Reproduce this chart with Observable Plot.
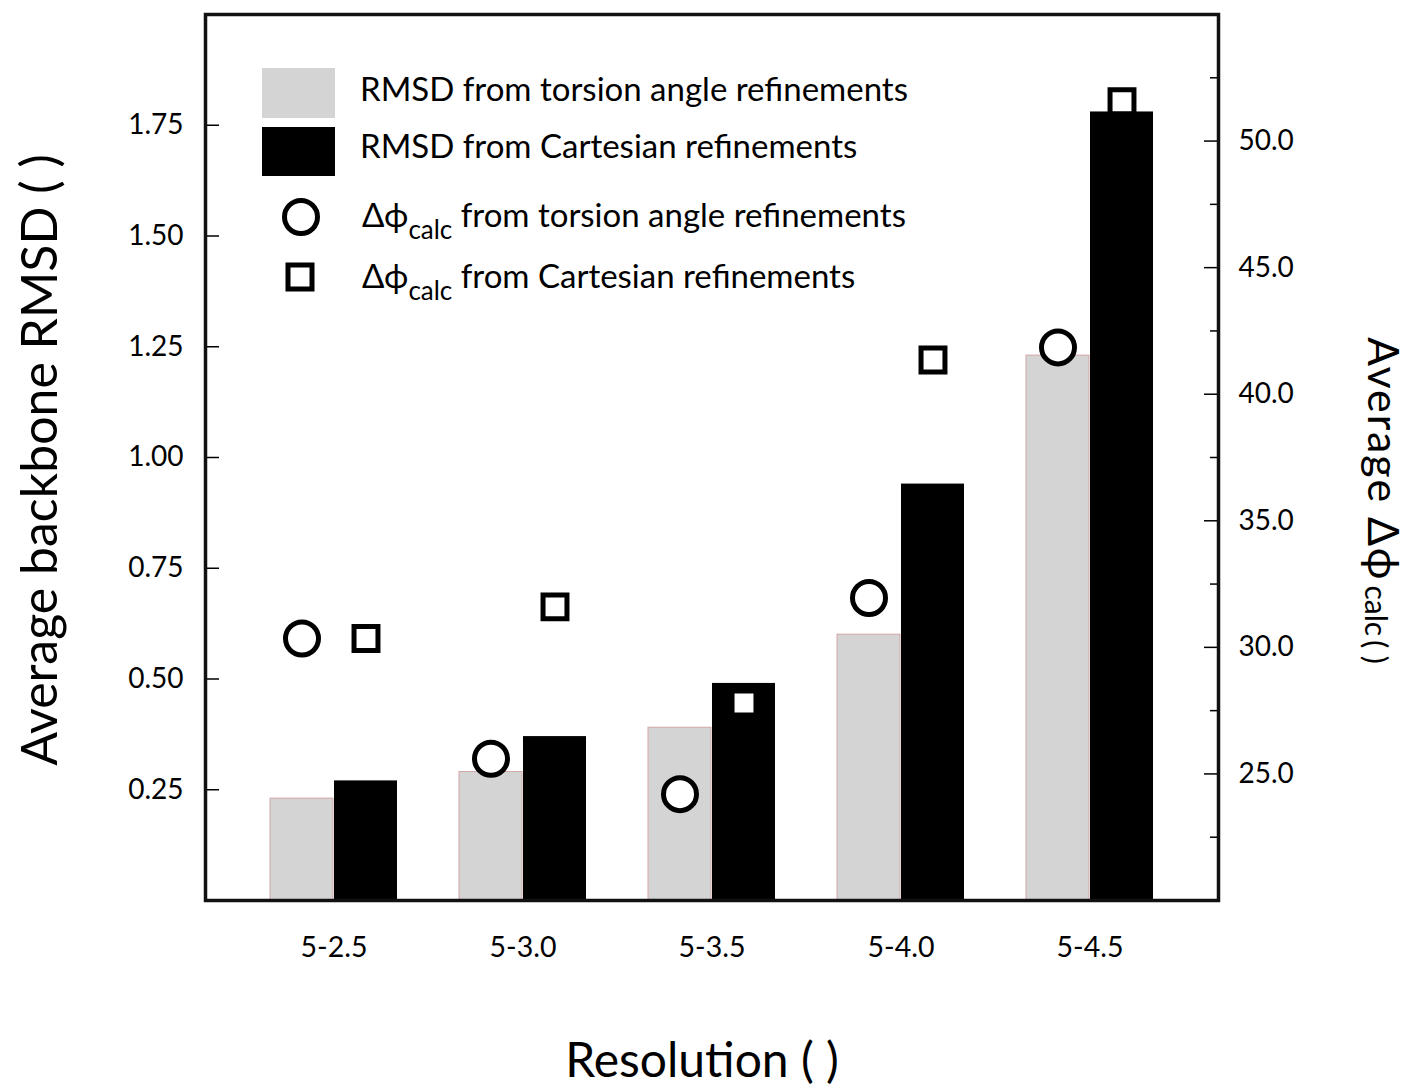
<!DOCTYPE html>
<html>
<head>
<meta charset="utf-8">
<script src="https://cdn.jsdelivr.net/npm/d3@7"></script>
<script src="https://cdn.jsdelivr.net/npm/@observablehq/plot@0.6"></script>
<style>
  body { margin: 0; background: #fff; }
  #chart { width: 1413px; height: 1087px; }
</style>
</head>
<body>
<div id="chart"></div>
<script>
// ---- data ----
const groups = ["5-2.5", "5-3.0", "5-3.5", "5-4.0", "5-4.5"];
const rmsdTorsion = [0.23, 0.29, 0.39, 0.60, 1.23];
const rmsdCartesian = [0.27, 0.37, 0.49, 0.94, 1.78];
const phiTorsion = [30.35, 25.6, 24.2, 31.95, 41.85];
const phiCartesian = [30.35, 31.6, 27.8, 41.35, 51.55];
const rmsdDomain = [0, 2];
const phiDomain = [20, 55];
const leftTicks = [0.25, 0.5, 0.75, 1.0, 1.25, 1.5, 1.75];
const rightMajorTicks = [25, 30, 35, 40, 45, 50];
const rightMinorTicks = [22.5, 27.5, 32.5, 37.5, 42.5, 47.5, 52.5];
const legendBarLabels = ["RMSD from torsion angle refinements", "RMSD from Cartesian refinements"];
const legendDotLabels = [" from torsion angle refinements", " from Cartesian refinements"];
const yLabel = "Average backbone RMSD ( )";
const xLabel = "Resolution ( )";

// ---- helpers: map right-axis (Δφ) values onto the left (RMSD) scale ----
const toY = v => (v - phiDomain[0]) / (phiDomain[1] - phiDomain[0]) * (rmsdDomain[1] - rmsdDomain[0]) + rmsdDomain[0];
const fromY = y => (y - rmsdDomain[0]) / (rmsdDomain[1] - rmsdDomain[0]) * (phiDomain[1] - phiDomain[0]) + phiDomain[0];

const torsionRows = groups.map((g, i) => ({group: g, rmsd: rmsdTorsion[i], phi: phiTorsion[i]}));
const cartRows = groups.map((g, i) => ({group: g, rmsd: rmsdCartesian[i], phi: phiCartesian[i]}));

const FONT = "Lato, 'Open Sans', sans-serif";

const svg = Plot.plot({
  width: 1413,
  height: 1087,
  marginLeft: 205,
  marginRight: 195,
  marginTop: 14,
  marginBottom: 187,
  style: {fontFamily: FONT, background: "white", color: "black"},
  x: {domain: groups, paddingInner: 0.326, paddingOuter: 0.329, axis: null},
  y: {domain: rmsdDomain, axis: null},
  marks: [
    Plot.barY(torsionRows, {x: "group", y: "rmsd", fill: "#d4d4d4", stroke: "#d3a6a6", strokeWidth: 1, insetRight: 64}),
    Plot.barY(cartRows, {x: "group", y: "rmsd", fill: "black", insetLeft: 64}),
    Plot.dot(torsionRows, {x: "group", y: d => toY(d.phi), r: 16.5, stroke: "black", strokeWidth: 5, fill: "white", dx: -32}),
    Plot.dot(cartRows, {x: "group", y: d => toY(d.phi), symbol: "square", r: 13.5, stroke: "black", strokeWidth: 5, fill: "white", dx: 32}),
    Plot.axisX({tickSize: 0, tickPadding: 36, fontSize: 28.5, label: null}),
    Plot.axisY(leftTicks, {anchor: "left", tickSize: 0, tickPadding: 22, fontSize: 28, tickFormat: d => d.toFixed(2), label: null}),
    Plot.axisY(leftTicks, {anchor: "left", tickSize: 14, insetLeft: 14, fill: "none", strokeWidth: 1.5, label: null}),
    Plot.axisY(rightMajorTicks.map(toY), {anchor: "right", tickSize: 0, tickPadding: 20, fontSize: 28, tickFormat: y => fromY(y).toFixed(1), label: null}),
    Plot.axisY(rightMajorTicks.map(toY), {anchor: "right", tickSize: 15, insetRight: 15, fill: "none", strokeWidth: 1.5, label: null}),
    Plot.axisY(rightMinorTicks.map(toY), {anchor: "right", tickSize: 9, insetRight: 9, fill: "none", strokeWidth: 1.5, label: null}),
    Plot.frame({stroke: "#111", strokeWidth: 3.5})
  ]
});
document.getElementById("chart").appendChild(svg);

// ---- titles and legend (text kept as SVG text) ----
const s = d3.select(svg);
s.append("text")
  .attr("transform", "translate(57,460) rotate(-90)")
  .attr("text-anchor", "middle")
  .attr("font-family", FONT).attr("font-size", 50).attr("fill", "black")
  .text(yLabel);
s.append("text")
  .attr("x", 702).attr("y", 1077)
  .attr("text-anchor", "middle")
  .attr("font-family", FONT).attr("font-size", 48).attr("fill", "black")
  .text(xLabel);
const rt = s.append("text")
  .attr("transform", "translate(1368,337) rotate(90)")
  .attr("text-anchor", "start")
  .attr("font-family", FONT).attr("font-size", 43).attr("fill", "black");
rt.append("tspan").attr("letter-spacing", 2).text("Average Δϕ");
rt.append("tspan").attr("font-size", 30).attr("dx", 4).attr("dy", 3).text("calc");
rt.append("tspan").attr("font-size", 30).attr("dx", 4).text("( )");

// legend
const lg = s.append("g").attr("font-family", FONT).attr("fill", "black").attr("text-anchor", "start");
lg.append("rect").attr("x", 262).attr("y", 68).attr("width", 73).attr("height", 50).attr("fill", "#d4d4d4");
lg.append("rect").attr("x", 262).attr("y", 127).attr("width", 73).attr("height", 49).attr("fill", "black");
lg.append("circle").attr("cx", 301).attr("cy", 217).attr("r", 16.5).attr("fill", "white").attr("stroke", "black").attr("stroke-width", 5);
lg.append("rect").attr("x", 288).attr("y", 265).attr("width", 24).attr("height", 24).attr("fill", "white").attr("stroke", "black").attr("stroke-width", 5);
legendBarLabels.forEach((t, i) => {
  lg.append("text").attr("x", 360).attr("y", 101 + i * 57).attr("font-size", 33).text(t);
});
legendDotLabels.forEach((t, i) => {
  const tx = lg.append("text").attr("x", 362).attr("y", 227 + i * 61).attr("font-size", 33);
  tx.append("tspan").text("Δϕ");
  tx.append("tspan").attr("font-size", 26).attr("dy", 12).text("calc");
  tx.append("tspan").attr("dy", -12).text(t);
});
</script>
</body>
</html>
